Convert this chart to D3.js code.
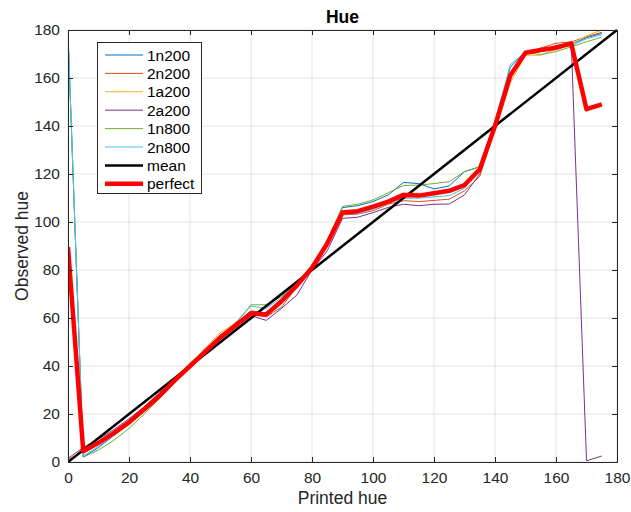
<!DOCTYPE html>
<html><head><meta charset="utf-8">
<script src="https://cdn.jsdelivr.net/npm/d3@7"></script>
<style>body{margin:0;background:#fff;}svg{display:block;font-family:"Liberation Sans",Arial,sans-serif;}</style>
</head><body>
<script>
const printedHue = [0,5,10,15,20,25,30,35,40,45,50,55,60,65,70,75,80,85,90,95,100,105,110,115,120,125,130,135,140,145,150,155,160,165,170,175];
const s1n200 = [179,2,6,11,16,22,28,34,40,46,52,57.5,63,62,67.5,74,81,92,106,106.8,108.5,111.3,116.5,116,113.8,115,121,123,141,164.5,171,171,172.5,174,176.8,178.6];
const s2n200 = [1,4.5,7.5,12,17,22.5,28,34,40,46.5,53,57,61.5,60.5,64.5,73,81,90,103,103.3,104.7,107.4,108.9,108.5,109,109.5,113,119,139,161,170,172.5,174.5,175,177.2,179];
const s1a200 = [0.5,4.5,7.5,12,17,23,28.5,34.5,40.5,47.5,54,58,63,61,67,74,81,91,104.5,104,105.5,108.5,112,112,111.5,112.5,116,122,138,158,169.5,169.5,172,174,177.6,180];
const s2a200 = [1.5,6,9.5,13.5,18,23,29,34.5,40,45,51,56,61,59,64,69.5,80,88,101.5,102,103.9,106.1,107.4,106.8,107.4,107.5,111.3,120,140,161,170,171.5,173.5,174.5,0.5,2.5];
const s1n800 = [178,2,5,9,14,20,26.5,33.5,40,46,52,58,65.5,65.5,69,75,81.5,92.5,106.5,107.4,109.2,112.2,115.2,115.4,116,116.8,121,123,140,162,170.5,169.8,171,173,175.1,177];
const s2n800 = [178.5,2.5,6.5,11,16,22,28,34,40,46.5,52,58,65,64,68.5,75,81,91,104.5,103.3,105.3,107.8,109.9,109.9,110.5,111,114,123,142,165.5,171,171,172.5,173.5,176.3,178];
const perfectY = [89.5,4.5,8,12,16.5,22,27.5,34,40,46,52,57,62,61.5,67,73.5,81,91,104,104.5,106.4,108.5,111.3,111,112,113,115.4,122,140,161,170.5,171.7,172.6,174.4,147,149];
const meanX = [0,180];
const meanY = [0,180];
const seriesNames = ["1n200","2n200","1a200","2a200","1n800","2n800"];
const seriesValues = [s1n200,s2n200,s1a200,s2a200,s1n800,s2n800];
const seriesColors = ["#0072BD","#D95319","#EDB120","#7E2F8E","#77AC30","#4DBEEE"];
const xTicks = [0,20,40,60,80,100,120,140,160,180];
const yTicks = [0,20,40,60,80,100,120,140,160,180];

const W=631,H=512, L=68,R=617,T=30,B=462;
const svg=d3.select("body").append("svg").attr("width",W).attr("height",H);
const x=d3.scaleLinear().domain([0,180]).range([L,R]);
const y=d3.scaleLinear().domain([0,180]).range([B,T]);
const axisCol="#262626";

// grid
const g=svg.append("g");
g.selectAll(".gx").data(xTicks).enter().append("line")
 .attr("x1",d=>x(d)).attr("x2",d=>x(d)).attr("y1",T).attr("y2",B)
 .attr("stroke","#e3e3e3").attr("stroke-width",1);
g.selectAll(".gy").data(yTicks).enter().append("line")
 .attr("y1",d=>y(d)).attr("y2",d=>y(d)).attr("x1",L).attr("x2",R)
 .attr("stroke","#e3e3e3").attr("stroke-width",1);

const clip=svg.append("clipPath").attr("id","c").append("rect").attr("x",L).attr("y",T-3).attr("width",R-L+3).attr("height",B-T+6);
const plot=svg.append("g").attr("clip-path","url(#c)");
const line=d3.line().x((d,i)=>x(printedHue[i])).y(d=>y(d));
seriesValues.forEach((vals,k)=>{
  plot.append("path").attr("d",line(vals)).attr("fill","none")
   .attr("stroke",seriesColors[k]).attr("stroke-width",1).attr("stroke-linejoin","round");
});
const line2=d3.line().x((d,i)=>x(meanX[i])).y(d=>y(d));
plot.append("path").attr("d",line2(meanY)).attr("fill","none").attr("stroke","#000").attr("stroke-width",2.5);
plot.append("path").attr("d",line(perfectY)).attr("fill","none").attr("stroke","#ff0000").attr("stroke-width",4.5).attr("stroke-linejoin","round");

// axes
const fs="15.5px";
const xa=svg.append("g").attr("transform",`translate(0,${B})`).call(d3.axisBottom(x).tickValues(xTicks).tickSize(-5).tickPadding(10));
const xt=svg.append("g").attr("transform",`translate(0,${T})`).call(d3.axisTop(x).tickValues(xTicks).tickSize(-5).tickFormat(""));
const ya=svg.append("g").attr("transform",`translate(${L},0)`).call(d3.axisLeft(y).tickValues(yTicks).tickSize(-5).tickPadding(8));
const yr=svg.append("g").attr("transform",`translate(${R},0)`).call(d3.axisRight(y).tickValues(yTicks).tickSize(-5).tickFormat(""));
[xa,xt,ya,yr].forEach(a=>{
  a.selectAll("path").attr("stroke",axisCol).attr("stroke-width",1);
  a.selectAll("line").attr("stroke",axisCol);
  a.selectAll("text").attr("fill",axisCol).style("font-size",fs).style("font-family","'Liberation Sans',Arial,sans-serif");
});

svg.append("text").attr("x",(L+R)/2).attr("y",23).attr("text-anchor","middle")
 .style("font-size","17.5px").style("font-weight","bold").attr("fill","#000").text("Hue");
svg.append("text").attr("x",(L+R)/2).attr("y",504).attr("text-anchor","middle")
 .style("font-size","17.5px").attr("fill",axisCol).text("Printed hue");
svg.append("text").attr("transform",`translate(28,${(T+B)/2}) rotate(-90)`).attr("text-anchor","middle")
 .style("font-size","17.5px").attr("fill",axisCol).text("Observed hue");

// legend
const leg=svg.append("g");
leg.append("rect").attr("x",97.5).attr("y",42.5).attr("width",104).attr("height",151)
 .attr("fill","#fff").attr("stroke",axisCol).attr("stroke-width",1);
const legNames=seriesNames.concat(["mean","perfect"]);
const legColors=seriesColors.concat(["#000","#ff0000"]);
const legWidths=[1,1,1,1,1,1,2.5,4.5];
legNames.forEach((n,i)=>{
  const yy=55+i*18.4;
  leg.append("line").attr("x1",105).attr("x2",143).attr("y1",yy).attr("y2",yy)
   .attr("stroke",legColors[i]).attr("stroke-width",legWidths[i]);
  leg.append("text").attr("x",147).attr("y",yy+5.5).style("font-size","15.5px").attr("fill","#000").text(n);
});
</script>
</body></html>
